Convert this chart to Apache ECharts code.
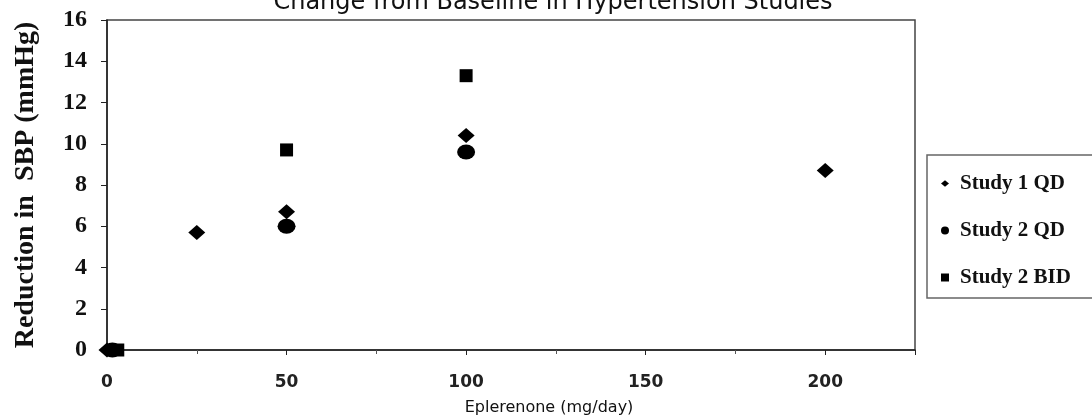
<!DOCTYPE html>
<html><head><meta charset="utf-8">
<script src="https://cdn.jsdelivr.net/npm/echarts@6/dist/echarts.min.js"></script>
<style>html,body{margin:0;padding:0;background:#fff}#c{width:1092px;height:417px}</style>
</head><body><div id="c"></div>
<script>
const seriesNames = ['Study 1 QD', 'Study 2 QD', 'Study 2 BID'];
const study1QD = [[0, 0], [25, 5.7], [50, 6.7], [100, 10.4], [200, 8.7]];
const study2QD = [[1.5, 0], [50, 6.0], [100, 9.6]];
const study2BID = [[3, 0], [50, 9.7], [100, 13.3]];
const yTicks = [0, 2, 4, 6, 8, 10, 12, 14, 16];
const xTicks = [0, 50, 100, 150, 200];

const chart = echarts.init(document.getElementById('c'));
const serif = '"Liberation Serif", "DejaVu Serif", serif';
const sans = '"DejaVu Sans", Verdana, sans-serif';
const diamond = 'path://M0,5L6,0L12,5L6,10Z';
chart.setOption({
  animation: false,
  title: {
    text: 'Change from Baseline in Hypertension Studies',
    left: 548, textAlign: 'center', top: -14,
    textStyle: { fontFamily: sans, fontSize: 24, fontWeight: 'normal', color: '#111' }
  },
  grid: { left: 107, right: 177, top: 20, bottom: 67, outerBoundsMode: 'none', containLabel: false, show: true, borderColor: '#444', borderWidth: 1.5, backgroundColor: '#fff' },
  legend: {
    orient: 'vertical', left: 927, top: 155,
    padding: [18, 30, 10, 14], itemGap: 26,
    borderColor: '#666', borderWidth: 1.5,
    itemWidth: 8, itemHeight: 8,
    textStyle: { fontFamily: serif, fontSize: 21, lineHeight: 20, fontWeight: 'bold', color: '#111', padding: [0, 0, 0, 6] },
    data: [
      { name: seriesNames[0], icon: diamond },
      { name: seriesNames[1], icon: 'circle' },
      { name: seriesNames[2], icon: 'rect' }
    ]
  },
  xAxis: {
    type: 'value', min: 0, max: 225, interval: 50,
    name: 'Eplerenone (mg/day)', nameLocation: 'middle', nameGap: 50,
    nameTextStyle: { fontFamily: sans, fontSize: 16, color: '#111', padding: [0, 0, 0, 76] },
    axisLine: { show: true, lineStyle: { color: '#222', width: 1.5 } },
    axisTick: { show: true, length: 5, lineStyle: { color: '#222' } },
    minorTick: { show: true, splitNumber: 2, length: 4, lineStyle: { color: '#555' } },
    splitLine: { show: false },
    axisLabel: {
      margin: 24, fontFamily: sans, fontSize: 17, fontWeight: 'bold', color: '#222',
      formatter: v => xTicks.includes(v) ? String(v) : ''
    }
  },
  yAxis: {
    type: 'value', min: 0, max: 16, interval: 2,
    name: 'Reduction in  SBP (mmHg)', nameLocation: 'middle', nameGap: 67, nameRotate: 90,
    nameTextStyle: { fontFamily: serif, fontSize: 28, fontWeight: 'bold', color: '#111' },
    axisLine: { show: true, lineStyle: { color: '#222', width: 1.5 } },
    axisTick: { show: true, length: 6, lineStyle: { color: '#222' } },
    splitLine: { show: false },
    axisLabel: {
      margin: 20, fontFamily: serif, fontSize: 24, fontWeight: 'bold', color: '#111',
      formatter: v => yTicks.includes(v) ? String(v) : ''
    }
  },
  series: [
    { name: seriesNames[0], type: 'scatter', data: study1QD, symbol: diamond, symbolSize: [17, 15], itemStyle: { color: '#000', opacity: 1 }, z: 3 },
    { name: seriesNames[1], type: 'scatter', data: study2QD, symbol: 'circle', symbolSize: [18, 15], itemStyle: { color: '#000', opacity: 1 }, z: 2 },
    { name: seriesNames[2], type: 'scatter', data: study2BID, symbol: 'rect', symbolSize: 13, itemStyle: { color: '#000', opacity: 1 }, z: 2 }
  ]
});
</script></body></html>
